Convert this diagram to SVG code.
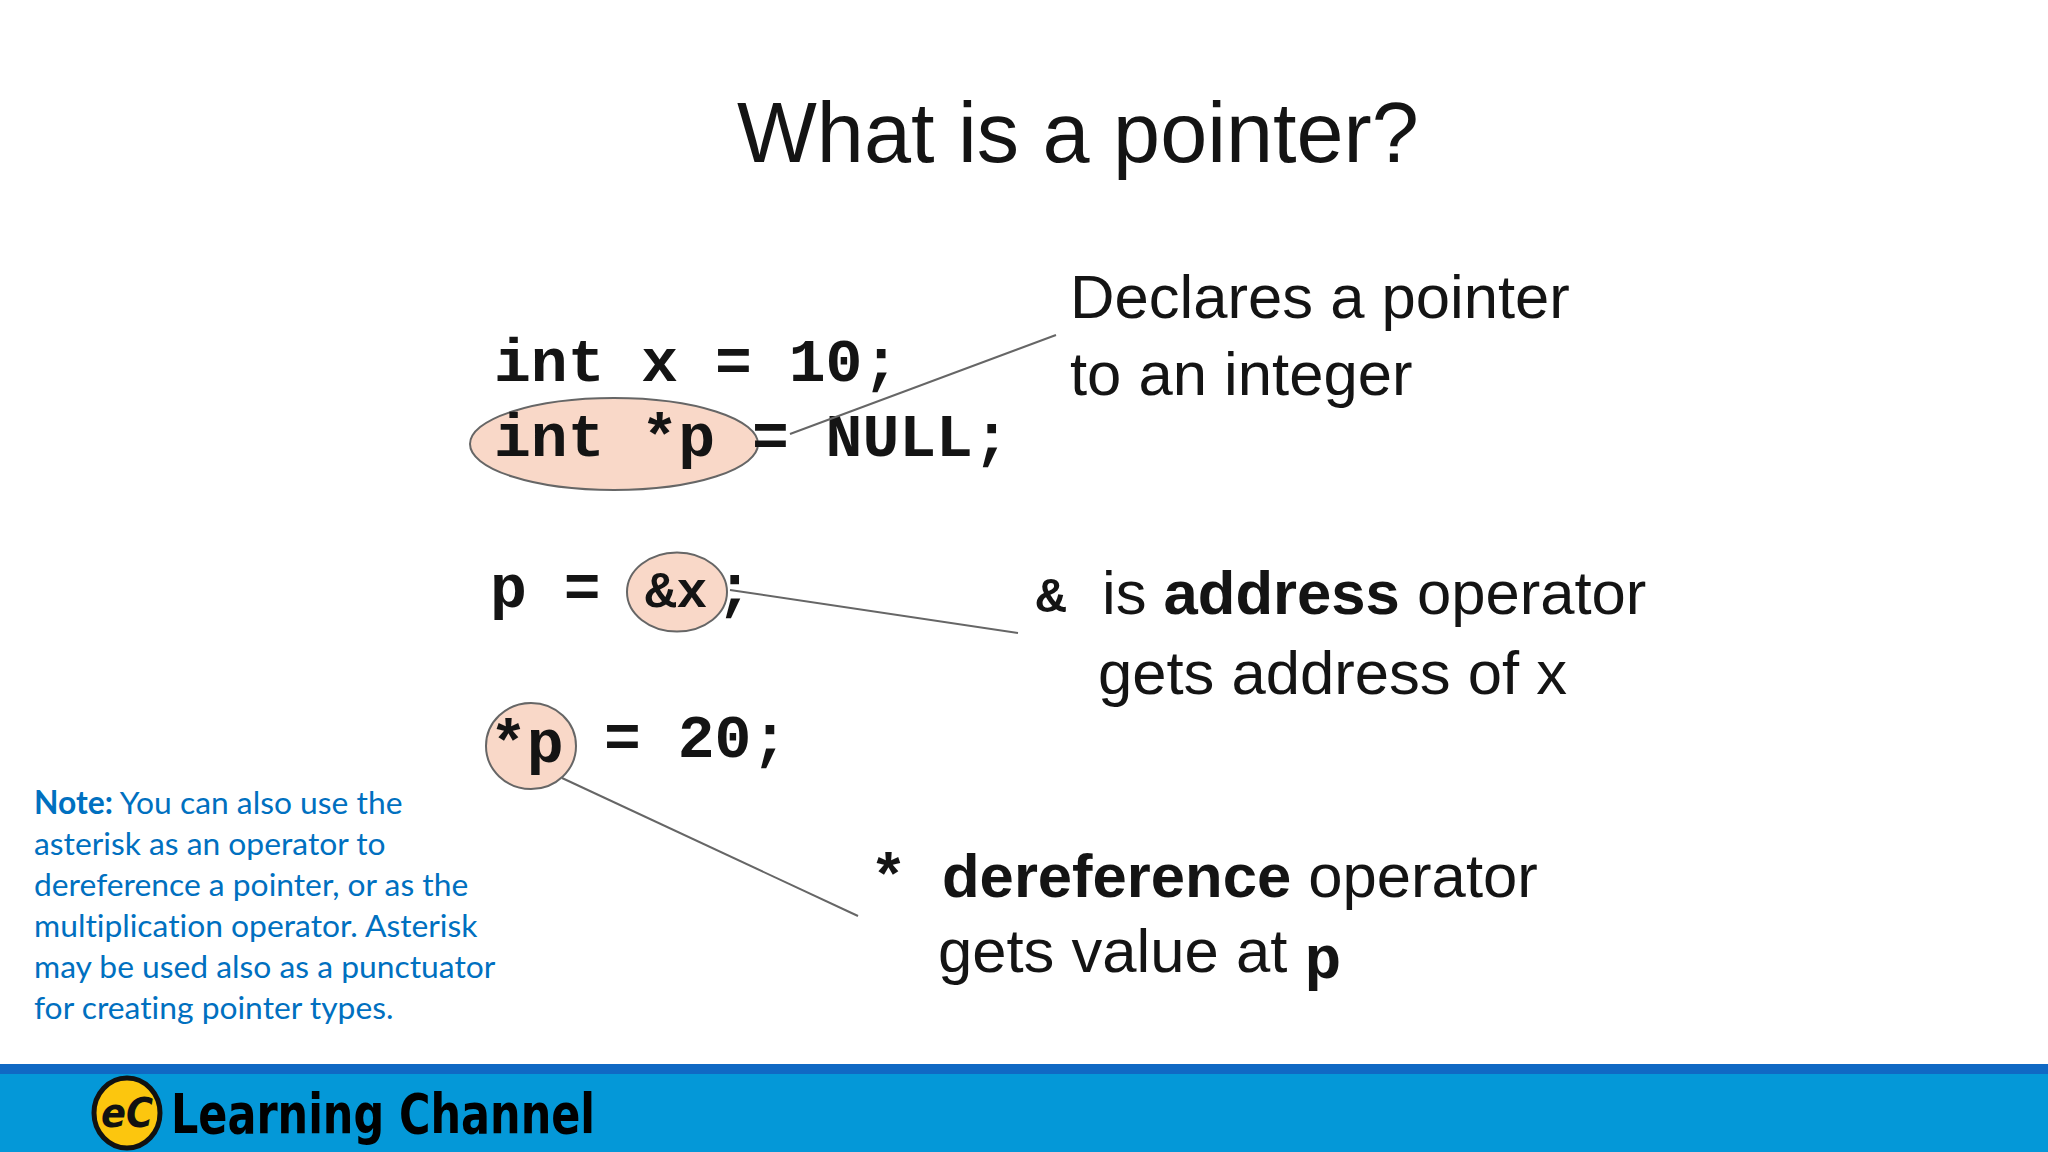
<svg xmlns="http://www.w3.org/2000/svg" width="2048" height="1152" viewBox="0 0 2048 1152">
<style>
.s{font-family:"Liberation Sans",Arial,sans-serif;fill:#141414;font-size:61.6px}
.c{font-family:"Liberation Mono","Courier New",monospace;font-weight:bold;fill:#141414;font-size:61.4px}
.b{font-weight:bold}
.n{font-family:Lato,"Open Sans",sans-serif;fill:#0070c0;font-size:31.8px;font-variant-ligatures:none}
.o{fill:#f9d8c8;stroke:#666;stroke-width:2}
.l{stroke:#666;stroke-width:2;fill:none}
</style>
<rect width="2048" height="1152" fill="#fff"/>
<text class="s" x="737" y="162" style="font-size:84.6px">What is a pointer?</text>
<g id="ovals">
<ellipse id="oval-int-p" class="o" cx="614" cy="444" rx="144" ry="46"/>
<ellipse id="oval-addr" class="o" cx="677" cy="592" rx="50" ry="39.5"/>
<ellipse id="oval-deref" class="o" cx="531" cy="746" rx="45" ry="43"/>
</g>
<g id="code">
<text class="c" x="494" y="381">int x = 10;</text>
<text class="c" x="494" y="456">int *p = NULL;</text>
<text class="c" x="490" y="607">p =</text>
<text class="c" x="645" y="607" style="font-size:52px">&amp;x</text>
<text class="c" x="716" y="607">;</text>
<text class="c" x="490" y="762">*p</text>
<text class="c" x="604" y="757">= 20;</text>
</g>
<g id="connectors">
<line class="l" x1="790" y1="434" x2="1056" y2="335"/>
<line class="l" x1="730" y1="590" x2="1018" y2="633"/>
<line class="l" x1="562" y1="778" x2="858" y2="916"/>
</g>
<g id="label-declares">
<text class="s" x="1070" y="318">Declares a pointer</text>
<text class="s" x="1070" y="395">to an integer</text>
</g>
<g id="label-address">
<text class="c" x="1036" y="612" style="font-size:50px">&amp;</text>
<text class="s" x="1102" y="614">is <tspan class="b">address</tspan> operator</text>
<text class="s" x="1098" y="694">gets address of x</text>
</g>
<g id="label-deref">
<text class="c" x="870" y="896">*</text>
<text class="s" x="942" y="897"><tspan class="b">dereference</tspan> operator</text>
<text class="s" x="938" y="972">gets value at <tspan class="c" dy="6">p</tspan></text>
</g>
<g id="note">
<text class="n" x="34" y="814"><tspan class="b">Note:</tspan> You can also use the</text>
<text class="n" x="34" y="855">asterisk as an operator to</text>
<text class="n" x="34" y="896">dereference a pointer, or as the</text>
<text class="n" x="34" y="937">multiplication operator. Asterisk</text>
<text class="n" x="34" y="978">may be used also as a punctuator</text>
<text class="n" x="34" y="1019">for creating pointer types.</text>
</g>
<g id="footer">
<rect y="1073" width="2048" height="79" fill="#0498d8"/>
<rect y="1064" width="2048" height="10" fill="#1069c4"/>
<ellipse cx="127" cy="1113" rx="33" ry="35" fill="#fcc60e" stroke="#111" stroke-width="5"/>
<text x="127" y="1127" text-anchor="middle" style="font-family:'DejaVu Sans',sans-serif;font-style:italic;font-weight:bold;font-size:40px;fill:#111" textLength="52" lengthAdjust="spacingAndGlyphs">eC</text>
<text x="171" y="1133" style="font-family:'DejaVu Sans',sans-serif;font-weight:bold;font-size:56px;fill:#000" textLength="424" lengthAdjust="spacingAndGlyphs">Learning Channel</text>
</g>
</svg>
